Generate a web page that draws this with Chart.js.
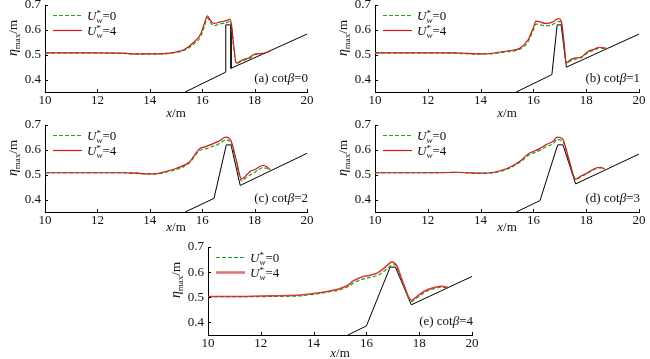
<!doctype html>
<html lang="zh">
<head>
<meta charset="utf-8"/>
<title>eta max</title>
<script src="https://cdn.jsdelivr.net/npm/chart.js"></script>
<style>
html,body{margin:0;background:#fff}
.wrap{position:relative;width:650px;height:359px;overflow:hidden}
canvas{position:absolute;left:0;top:0}
</style>
</head>
<body>
<div class="wrap">
  <canvas id="ca" width="650" height="359"></canvas>
  <canvas id="cb" width="650" height="359"></canvas>
  <canvas id="cc" width="650" height="359"></canvas>
  <canvas id="cd" width="650" height="359"></canvas>
  <canvas id="ce" width="650" height="359"></canvas>
</div>
<script>
// ticks
const xTicks = [10, 12, 14, 16, 18, 20];
const yTicks = [0.4, 0.5, 0.6, 0.7];

// (a) cotβ=0
const xA = [10,11,12,13,13.5,14,14.5,15,15.3,15.7,15.95,16.1,16.2,16.3,16.45,16.7,16.95,17.05,17.12,17.2,17.3,17.55,17.8,18.0,18.3,18.6];
const redA = [0.507,0.507,0.507,0.506,0.503,0.503,0.504,0.511,0.52,0.552,0.585,0.632,0.656,0.64,0.626,0.632,0.638,0.643,0.62,0.54,0.466,0.48,0.488,0.503,0.505,0.515];
const greenA = [0.507,0.507,0.507,0.505,0.502,0.502,0.503,0.509,0.517,0.545,0.575,0.62,0.648,0.632,0.617,0.624,0.63,0.634,0.61,0.53,0.465,0.477,0.485,0.5,0.504,0.514];
const bedXA = [15.35,16.9,16.9,17.1,17.1,20];
const bedYA = [0.35,0.43,0.62,0.62,0.445,0.583];

// (b) cotβ=1
const xB = [10,12,13,14,14.5,15,15.5,15.8,16.0,16.1,16.25,16.45,16.7,16.95,17.05,17.15,17.25,17.4,17.6,17.8,18.1,18.3,18.5,18.8];
const redB = [0.507,0.507,0.507,0.503,0.507,0.515,0.527,0.56,0.61,0.635,0.632,0.626,0.63,0.645,0.638,0.56,0.467,0.48,0.487,0.49,0.515,0.522,0.53,0.525];
const greenB = [0.507,0.507,0.506,0.502,0.505,0.512,0.523,0.553,0.6,0.623,0.62,0.617,0.62,0.634,0.63,0.55,0.465,0.475,0.482,0.488,0.51,0.518,0.527,0.524];
const bedXB = [15.35,16.7,16.9,17.05,17.25,20];
const bedYB = [0.35,0.42,0.62,0.62,0.45,0.583];

// (c) cotβ=2
const xC = [10,12,13,13.5,14,14.3,14.6,15,15.5,15.9,16.1,16.3,16.6,16.9,17.1,17.3,17.5,17.7,17.85,18.0,18.15,18.3,18.45,18.6];
const redC = [0.508,0.508,0.508,0.506,0.503,0.505,0.513,0.525,0.55,0.605,0.612,0.62,0.633,0.651,0.637,0.56,0.483,0.5,0.515,0.52,0.53,0.537,0.533,0.52];
const greenC = [0.508,0.508,0.508,0.506,0.503,0.504,0.51,0.52,0.547,0.597,0.603,0.61,0.622,0.64,0.628,0.55,0.475,0.49,0.5,0.51,0.52,0.528,0.526,0.515];
const bedXC = [15.35,16.45,16.92,17.1,17.45,20];
const bedYC = [0.35,0.405,0.62,0.62,0.457,0.586];

// (d) cotβ=3
const xD = [10,12,12.8,13.1,13.5,14,14.5,15,15.5,15.8,16.2,16.5,16.75,16.9,17.1,17.35,17.6,17.8,18.0,18.2,18.4,18.55,18.7];
const redD = [0.508,0.508,0.509,0.51,0.508,0.506,0.51,0.525,0.555,0.583,0.603,0.622,0.635,0.651,0.645,0.56,0.482,0.495,0.505,0.518,0.528,0.53,0.523];
const greenD = [0.508,0.508,0.509,0.509,0.507,0.505,0.508,0.522,0.551,0.577,0.596,0.613,0.625,0.641,0.636,0.555,0.48,0.492,0.502,0.515,0.525,0.527,0.521];
const bedXD = [15.35,16.25,16.92,17.12,17.6,20];
const bedYD = [0.35,0.396,0.62,0.62,0.463,0.583];

// (e) cotβ=4
const xE = [10,11,12,13,13.5,14,14.5,15,15.3,15.5,15.8,16.1,16.4,16.6,16.8,16.95,17.05,17.15,17.4,17.7,17.9,18.1,18.3,18.6,18.85,19.1];
const redE = [0.503,0.503,0.505,0.507,0.509,0.515,0.523,0.535,0.548,0.565,0.58,0.587,0.596,0.61,0.628,0.64,0.638,0.625,0.555,0.488,0.502,0.518,0.53,0.54,0.544,0.538];
const greenE = [0.503,0.503,0.503,0.504,0.506,0.512,0.52,0.53,0.542,0.556,0.57,0.578,0.586,0.598,0.615,0.628,0.632,0.62,0.55,0.484,0.497,0.512,0.525,0.535,0.54,0.537];
const bedXE = [15.3,16.0,16.9,17.1,17.7,20];
const bedYE = [0.35,0.386,0.62,0.62,0.47,0.583];

const legendLabels = ['=0', '=4'];
const SERIF = "'Liberation Serif','DejaVu Serif',serif";
const RED = '#d01818', GREEN = '#1fa51f';

const pts = (xs, ys) => xs.map((x, i) => ({ x, y: ys[i] }));

// draws a run of text pieces; piece {t, f, dy, keep}
function rich(ctx, parts, x, y, align){
  let w = 0;
  for (const p of parts){ ctx.font = p.f; if (!p.keep) w += ctx.measureText(p.t).width; }
  let cx = align === 'right' ? x - w : align === 'center' ? x - w/2 : x;
  ctx.textAlign = 'left'; ctx.textBaseline = 'alphabetic';
  for (const p of parts){
    ctx.font = p.f;
    ctx.fillText(p.t, cx, y + (p.dy || 0));
    if (!p.keep) cx += ctx.measureText(p.t).width;
  }
}

const deco = {
  id: 'deco',
  afterDraw(chart, args, o){
    const { ctx, chartArea: a, scales } = chart;
    ctx.save();
    ctx.fillStyle = '#111'; ctx.strokeStyle = '#000'; ctx.lineWidth = 1;
    // inward ticks
    ctx.beginPath();
    for (const v of xTicks){
      const px = Math.round(scales.x.getPixelForValue(v)) + 0.5;
      ctx.moveTo(px, a.bottom); ctx.lineTo(px, a.bottom - 3);
    }
    for (const v of yTicks){
      const py = Math.round(scales.y.getPixelForValue(v)) + 0.5;
      ctx.moveTo(a.left, py); ctx.lineTo(a.left + 3, py);
    }
    ctx.stroke();

    // legend
    const lx = a.left + 8;
    [[GREEN, [4,2], 1.2], o.thick ? ['rgba(215,70,70,0.75)', [], 2.6] : [RED, [], 1.2]].forEach((s, i) => {
      const ly = a.top + 10 + i*15;
      ctx.strokeStyle = s[0]; ctx.setLineDash(s[1]); ctx.lineWidth = s[2];
      ctx.beginPath(); ctx.moveTo(lx, ly + 0.5); ctx.lineTo(lx + 29, ly + 0.5); ctx.stroke();
      ctx.setLineDash([]);
      rich(ctx, [
        { t: 'U', f: 'italic 13px ' + SERIF },
        { t: '*', f: '9px ' + SERIF, dy: -4, keep: true },
        { t: 'w', f: 'italic 9px ' + SERIF, dy: 3 },
        { t: legendLabels[i], f: '13px ' + SERIF }
      ], lx + 34, ly + 4.5);
    });

    // panel label
    rich(ctx, [
      { t: o.tag + ' cot', f: '13px ' + SERIF },
      { t: 'β', f: 'italic 13px ' + SERIF },
      { t: '=' + o.cot, f: '13px ' + SERIF }
    ], a.right + 1, a.bottom - 10, 'right');

    // x title
    rich(ctx, [
      { t: 'x', f: 'italic 13px ' + SERIF },
      { t: '/m', f: '13px ' + SERIF }
    ], (a.left + a.right)/2, a.bottom + o.xt, 'center');

    // y title
    ctx.translate(a.left - 32, a.top + 33);
    ctx.rotate(-Math.PI/2);
    rich(ctx, [
      { t: 'η', f: 'italic 14px ' + SERIF },
      { t: 'max', f: '9px ' + SERIF, dy: 3 },
      { t: '/m', f: '13px ' + SERIF }
    ], 0, 4, 'center');
    ctx.restore();
  }
};

function make(id, box, xs, red, green, bx, by, tag, cot, xt, thick){
  const [L, T, R, B] = box;
  return new Chart(document.getElementById(id), {
    type: 'line',
    data: { datasets: [
      { data: pts(xs, red), borderColor: thick ? 'rgba(215,40,40,0.9)' : RED, borderWidth: thick ? 1.6 : 1.2, cubicInterpolationMode: 'monotone' },
      { data: pts(xs, green), borderColor: GREEN, borderWidth: 1.2, borderDash: [4,2], cubicInterpolationMode: 'monotone' },
      { data: pts(bx, by), borderColor: '#000', borderWidth: 1, tension: 0 }
    ]},
    options: {
      responsive: false, animation: false, devicePixelRatio: 1,
      layout: { padding: { left: L - 40, top: T, right: 650 - R, bottom: 359 - 20 - B } },
      elements: { point: { radius: 0 } },
      plugins: { legend: { display: false }, tooltip: { enabled: false }, deco: { tag, cot, xt, thick } },
      scales: {
        x: {
          type: 'linear', min: 10, max: 20,
          afterBuildTicks: s => { s.ticks = xTicks.map(value => ({ value })); },
          afterFit: s => { s.height = 20; s.paddingLeft = 0; s.paddingRight = 0; },
          grid: { display: false, drawTicks: false }, border: { display: true, color: '#000', width: 1 },
          ticks: { color: '#111', padding: 1, maxRotation: 0, font: { family: SERIF, size: 13 }, callback: v => String(v) }
        },
        y: {
          type: 'linear', min: 0.35, max: 0.7,
          afterBuildTicks: s => { s.ticks = yTicks.map(value => ({ value })); },
          afterFit: s => { s.width = 40; s.paddingTop = 0; s.paddingBottom = 0; },
          grid: { display: false, drawTicks: false }, border: { display: true, color: '#000', width: 1 },
          ticks: { color: '#111', padding: 4, font: { family: SERIF, size: 13 }, callback: v => v.toFixed(1) }
        }
      }
    },
    plugins: [deco]
  });
}

make('ca', [45, 5, 307, 92], xA, redA, greenA, bedXA, bedYA, '(a)', 0, 25);
make('cb', [375, 5, 639, 92], xB, redB, greenB, bedXB, bedYB, '(b)', 1, 25);
make('cc', [45, 125, 307, 212], xC, redC, greenC, bedXC, bedYC, '(c)', 2, 19);
make('cd', [375, 125, 639, 212], xD, redD, greenD, bedXD, bedYD, '(d)', 3, 19);
make('ce', [208, 247, 472, 335], xE, redE, greenE, bedXE, bedYE, '(e)', 4, 22, true);
</script>
</body>
</html>
